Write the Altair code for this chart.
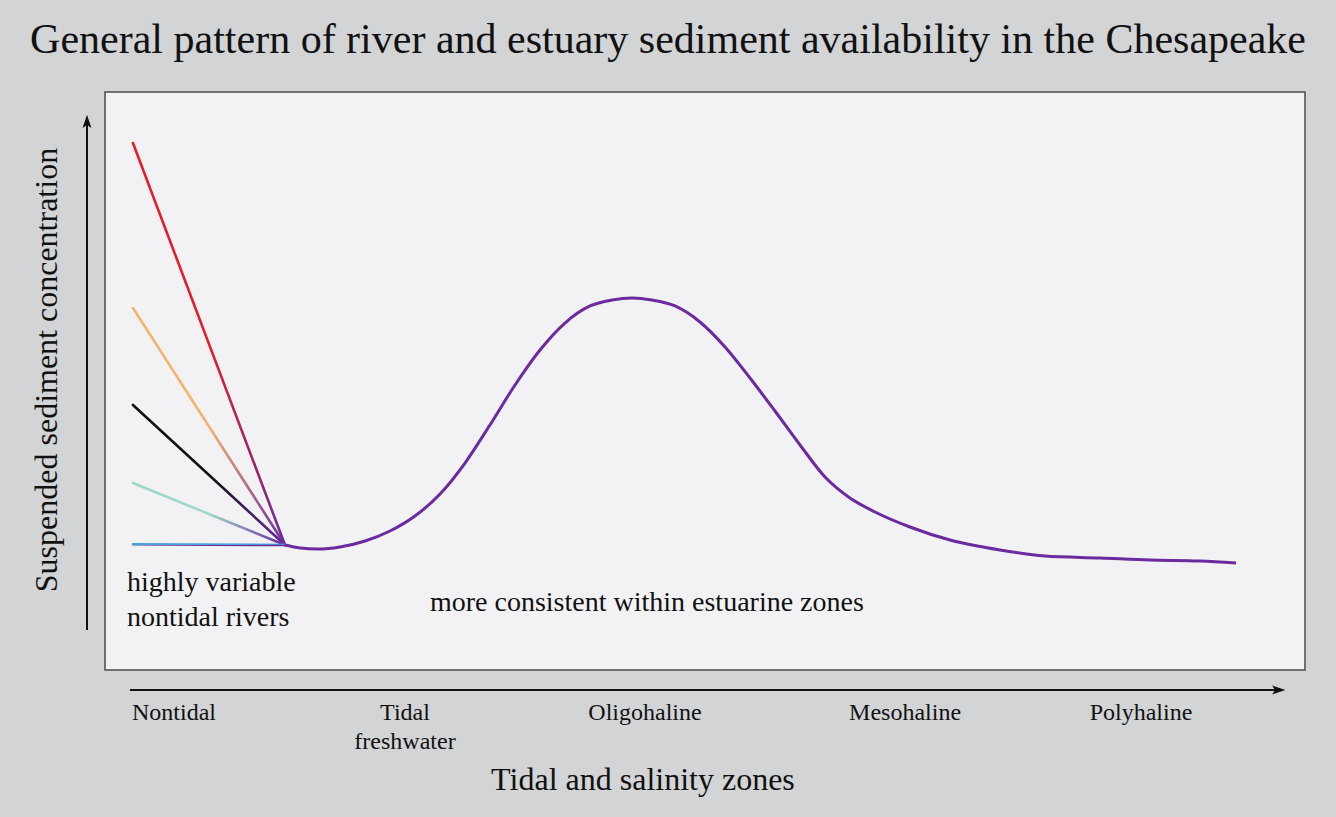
import altair as alt
import pandas as pd

# ---- data (x: 0-100 along the zone axis, y: 0-100 relative concentration) ----
curve_x = [15.0, 16.25, 17.75, 19.58, 21.67, 23.75, 25.83, 27.92, 30.0, 32.08, 34.17,
           36.25, 38.33, 40.42, 42.25, 43.92, 45.58, 47.5, 49.58, 51.67, 53.75, 55.83,
           57.92, 60.0, 62.08, 64.17, 67.08, 70.42, 74.58, 78.33, 82.92, 87.08, 91.25, 94.25]
curve_y = [21.63, 21.11, 20.93, 21.28, 22.32, 24.05, 26.64, 30.45, 35.81, 42.39, 49.31,
           55.36, 60.03, 62.98, 64.01, 64.36, 64.01, 62.98, 60.21, 55.88, 50.52, 44.81,
           38.93, 33.39, 29.76, 27.34, 24.74, 22.49, 20.76, 19.72, 19.38, 19.03, 18.86, 18.51]

river_names = ["red", "orange", "black", "teal", "blue"]
river_colors = ["#e41e26", "#f4b46e", "#111111", "#9ed8cb", "#4aa3d8"]
river_start_y = [91.18, 62.63, 45.85, 32.35, 21.75]
river_start_x = 2.33
river_end_x = 15.0
river_end_y = 21.63
purple = "#6b2a9e"

zone_labels = ["Nontidal", "Tidal", "freshwater", "Oligohaline", "Mesohaline", "Polyhaline"]
zone_x = [5.75, 25.0, 25.0, 45.0, 66.67, 86.33]
zone_y = [-7.44, -7.44, -12.46, -7.44, -7.44, -7.44]

note_texts = ["highly variable", "nontidal rivers", "more consistent within estuarine zones"]
note_x = [1.83, 1.83, 27.08]
note_y = [15.05, 9.0, 11.59]

title_text = "General pattern of river and estuary sediment availability in the Chesapeake"
x_title = "Tidal and salinity zones"
y_title = "Suspended sediment concentration"

FONT = "Liberation Serif"
W, H = 1200, 578

xs = alt.Scale(domain=[0, 100], nice=False, zero=False)
ys = alt.Scale(domain=[0, 100], nice=False, zero=False)

def X(f="x"):
    return alt.X(f"{f}:Q", scale=xs, axis=None)

def Y(f="y"):
    return alt.Y(f"{f}:Q", scale=ys, axis=None)

layers = []

# river lines with gradient into purple
for name, col, sy in zip(river_names, river_colors, river_start_y):
    df = pd.DataFrame({"x": [river_start_x, river_end_x], "y": [sy, river_end_y]})
    grad = alt.LinearGradient(
        gradient="linear",
        stops=[alt.GradientStop(color=col, offset=0),
               alt.GradientStop(color=col, offset=0.5),
               alt.GradientStop(color=purple, offset=1)],
        x1=0, y1=0, x2=1, y2=1,
    )
    layers.append(alt.Chart(df).mark_line(stroke=grad, strokeWidth=2.6, strokeCap="round")
                  .encode(x=X(), y=Y()))

curve_df = pd.DataFrame({"x": curve_x, "y": curve_y})
layers.append(alt.Chart(curve_df).mark_line(color=purple, strokeWidth=3, interpolate="monotone")
              .encode(x=X(), y=Y()))

# axis arrows
yarrow = pd.DataFrame({"x": [-1.5, -1.5], "y": [6.92, 94.8]})
xarrow = pd.DataFrame({"x": [2.08, 97.75], "y": [-3.46, -3.46]})
layers.append(alt.Chart(yarrow).mark_line(color="#111", strokeWidth=2, clip=False).encode(x=X(), y=Y()))
layers.append(alt.Chart(xarrow).mark_line(color="#111", strokeWidth=2, clip=False).encode(x=X(), y=Y()))
heads = pd.DataFrame({"x": [-1.5, 97.75], "y": [94.8, -3.46], "a": [0, 90]})
layers.append(alt.Chart(heads).mark_point(
    shape="M0,-1L0.6,0.8L0,0.4L-0.6,0.8Z", filled=True, color="#111", opacity=1,
    size=220, clip=False).encode(x=X(), y=Y(), angle=alt.Angle("a:Q", scale=None)))

# zone labels
zdf = pd.DataFrame({"x": zone_x, "y": zone_y, "t": zone_labels})
layers.append(alt.Chart(zdf).mark_text(font=FONT, fontSize=24, color="#111", align="center",
                                       baseline="middle").encode(x=X(), y=Y(), text="t:N"))

# notes
ndf = pd.DataFrame({"x": note_x, "y": note_y, "t": note_texts})
layers.append(alt.Chart(ndf).mark_text(font=FONT, fontSize=28, color="#111", align="left",
                                       baseline="middle").encode(x=X(), y=Y(), text="t:N"))

# titles
tdf = pd.DataFrame({"x": [46.92], "y": [109.0], "t": [title_text]})
layers.append(alt.Chart(tdf).mark_text(font=FONT, fontSize=42, color="#111", align="center",
                                       baseline="middle").encode(x=X(), y=Y(), text="t:N"))
xtdf = pd.DataFrame({"x": [44.83], "y": [-19.03], "t": [x_title]})
layers.append(alt.Chart(xtdf).mark_text(font=FONT, fontSize=32, color="#111", align="center",
                                        baseline="middle").encode(x=X(), y=Y(), text="t:N"))
ytdf = pd.DataFrame({"x": [-4.83], "y": [51.9], "t": [y_title]})
layers.append(alt.Chart(ytdf).mark_text(font=FONT, fontSize=32, color="#111", align="center",
                                        baseline="middle", angle=270).encode(x=X(), y=Y(), text="t:N"))

chart = alt.layer(*layers).properties(
    width=W, height=H,
    autosize=alt.AutoSizeParams(type="none"),
    padding={"left": 105, "top": 92, "right": 31, "bottom": 147},
    background="#d3d4d6",
).configure_view(fill="#f2f2f4", stroke="#4a4a4a", strokeWidth=1.5)

chart.save("out.html", embed_options={"renderer": "svg", "actions": False})
